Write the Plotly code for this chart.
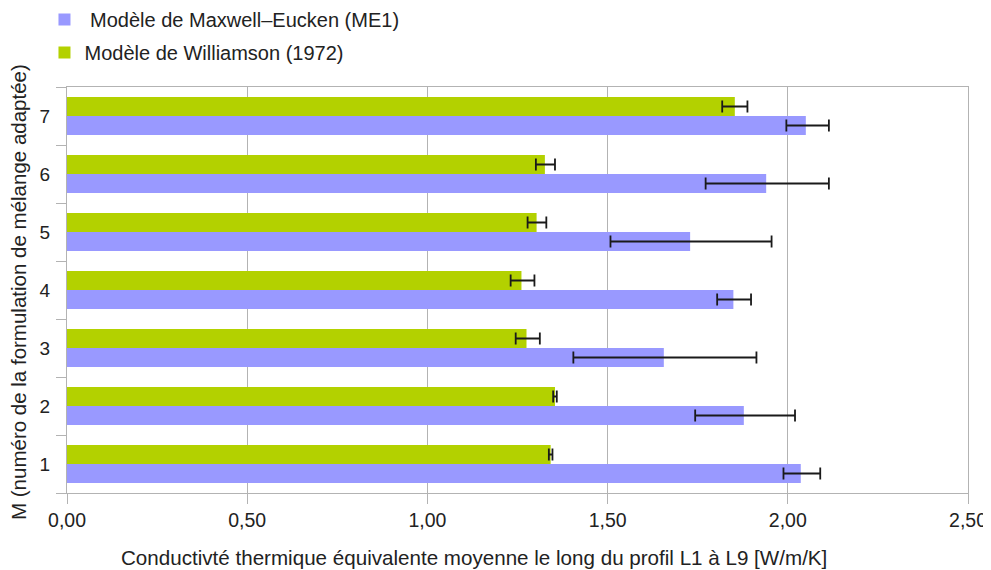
import plotly.graph_objects as go

categories = ["1", "2", "3", "4", "5", "6", "7"]

maxwell_vals = [2.036, 1.878, 1.656, 1.849, 1.729, 1.940, 2.050]
maxwell_err_plus = [0.054, 0.142, 0.257, 0.049, 0.226, 0.174, 0.064]
maxwell_err_minus = [0.048, 0.135, 0.251, 0.045, 0.221, 0.168, 0.054]

williamson_vals = [1.342, 1.354, 1.275, 1.261, 1.303, 1.326, 1.853]
williamson_err_plus = [0.005, 0.005, 0.037, 0.036, 0.027, 0.028, 0.035]
williamson_err_minus = [0.005, 0.005, 0.030, 0.030, 0.025, 0.025, 0.035]

name_maxwell = " Modèle de Maxwell–Eucken (ME1)"
name_williamson = "Modèle de Williamson (1972)"

x_title = "Conductivté thermique équivalente moyenne le long du profil L1 à L9 [W/m/K]"
y_title = "M (numéro de la formulation de mélange adaptée)"

fig = go.Figure()
fig.add_trace(go.Bar(
    y=categories, x=maxwell_vals, orientation="h", name=name_maxwell,
    marker=dict(color="#9999ff", line=dict(width=0)),
    legendgroup="a",
    error_x=dict(type="data", symmetric=False, array=maxwell_err_plus,
                 arrayminus=maxwell_err_minus, color="#1a1a1a", thickness=1.8, width=6),
))
fig.add_trace(go.Bar(
    y=categories, x=williamson_vals, orientation="h", name=name_williamson,
    marker=dict(color="#b3d100", line=dict(width=0)),
    legendgroup="b",
    error_x=dict(type="data", symmetric=False, array=williamson_err_plus,
                 arrayminus=williamson_err_minus, color="#1a1a1a", thickness=1.8, width=6),
))

fig.update_layout(
    width=983, height=562,
    margin=dict(l=59, r=23, t=79, b=77, autoexpand=False),
    paper_bgcolor="white", plot_bgcolor="white",
    barmode="group", bargap=0.345, bargroupgap=0,
    separators=",.",
    font=dict(family="Liberation Sans, Arial, sans-serif", color="#222222", size=20),
    legend=dict(x=-0.025, y=1.214, xanchor="left", yanchor="top",
                traceorder="grouped", tracegroupgap=4,
                font=dict(size=20), itemwidth=30, bgcolor="rgba(0,0,0,0)"),
    showlegend=True,
    annotations=[
        dict(text=x_title, xref="paper", yref="paper", x=0.452, y=0,
             xanchor="center", yanchor="middle", yshift=-64, showarrow=False,
             font=dict(size=20.6)),
        dict(text=y_title, xref="paper", yref="paper", x=0, y=0.5,
             xanchor="center", yanchor="middle", xshift=-49, yshift=-2,
             textangle=-90, showarrow=False, font=dict(size=20.5)),
    ],
)
fig.update_xaxes(
    range=[0, 2.5], dtick=0.5, tickformat=".2f",
    showgrid=True, gridcolor="#b3b3b3", gridwidth=1,
    showline=True, linecolor="#b3b3b3", mirror=True,
    ticks="outside", ticklen=10, tickcolor="#b3b3b3",
    zeroline=False, automargin=False,
    tickfont=dict(size=19.5),
)
fig.update_yaxes(
    type="category",
    showgrid=False,
    showline=True, linecolor="#b3b3b3", mirror=True,
    ticks="outside", ticklen=10, tickcolor="#b3b3b3", tickson="boundaries",
    automargin=False, ticklabelstandoff=12,
    tickfont=dict(size=19),
)

fig.write_html("out.html")
